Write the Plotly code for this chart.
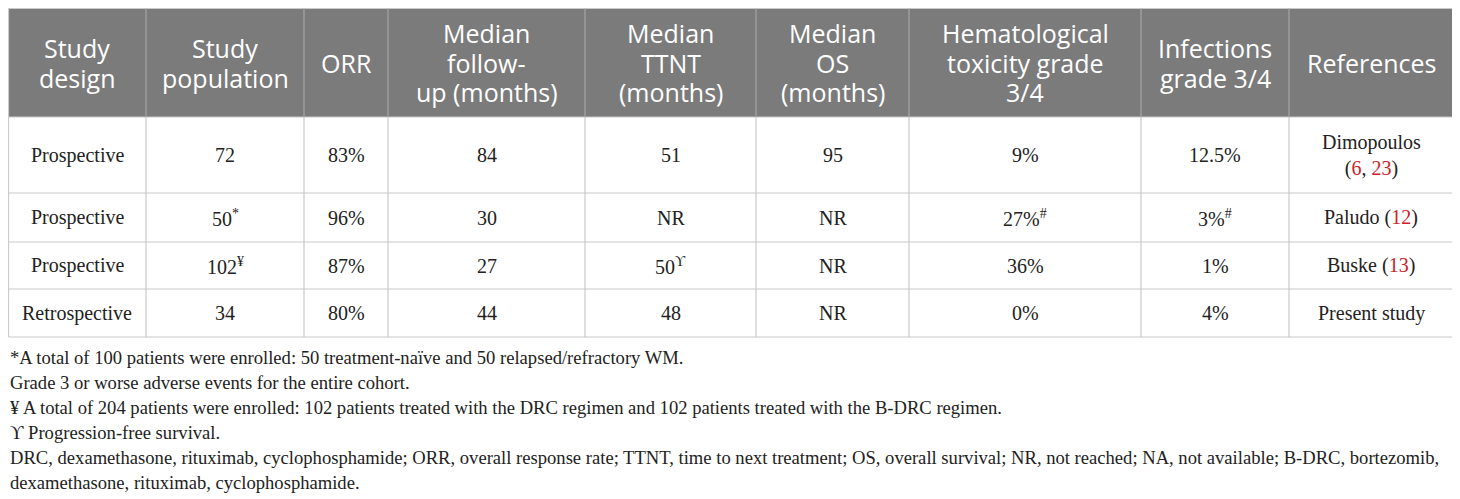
import plotly.graph_objects as go

### 표 데이터
headers = ['Study<br>design', 'Study<br>population', 'ORR', 'Median<br>follow-<br>up (months)',
           'Median<br>TTNT<br>(months)', 'Median<br>OS<br>(months)',
           'Hematological<br>toxicity grade<br>3/4', 'Infections<br>grade 3/4', 'References']

study_design = ['Prospective', 'Prospective', 'Prospective', 'Retrospective']
study_population = ['72', '50<sup>*</sup>', '102<sup>¥</sup>', '34']
orr = ['83%', '96%', '87%', '80%']
follow_up = ['84', '30', '27', '44']
ttnt = ['51', 'NR', '50<sup>ϒ</sup>', '48']
median_os = ['95', 'NR', 'NR', 'NR']
hem_tox = ['9%', '27%<sup>#</sup>', '36%', '0%']
infections = ['12.5%', '3%<sup>#</sup>', '1%', '4%']
ref_names = ['Dimopoulos<br>', 'Paludo ', 'Buske ', 'Present study']
ref_nums = [['6', '23'], ['12'], ['13'], []]

footnotes = [
    '*A total of 100 patients were enrolled: 50 treatment-naïve and 50 relapsed/refractory WM.',
    'Grade 3 or worse adverse events for the entire cohort.',
    '¥ A total of 204 patients were enrolled: 102 patients treated with the DRC regimen and 102 patients treated with the B-DRC regimen.',
    'ϒ Progression-free survival.',
    'DRC, dexamethasone, rituximab, cyclophosphamide; ORR, overall response rate; TTNT, time to next treatment; OS, overall survival; NR, not reached; NA, not available; B-DRC, bortezomib,',
    'dexamethasone, rituximab, cyclophosphamide.',
]

### 레이아웃 설정 (픽셀 단위, body 여백 8px 보정)
W, H = 1460, 499
PAD = 8
x0, y0 = 8.5, 8.5
col_w = [137.5, 158, 84, 197, 171, 153, 232, 148, 164]
row_h = [108.5, 76, 49, 47, 48]
header_bg = '#7b7b7b'
line_col = '#cacaca'
red = '#cc2229'
head_gap = 29.5   # 헤더 줄 간격
note_gap = 25     # 각주 줄 간격

# 참조 번호 빨간색 처리
references = []
for name, nums in zip(ref_names, ref_nums):
    if nums:
        refs = ', '.join("<span style='color:%s'>%s</span>" % (red, n) for n in nums)
        references.append(name + '(' + refs + ')')
    else:
        references.append(name)

columns = [study_design, study_population, orr, follow_up, ttnt, median_os, hem_tox, infections, references]

xs = [x0]
for w in col_w:
    xs.append(xs[-1] + w)
ys = [y0]
for h in row_h:
    ys.append(ys[-1] + h)

fig = go.Figure()

# 헤더 배경
fig.add_shape(type='rect', x0=xs[0], x1=xs[-1], y0=ys[0], y1=ys[1],
              fillcolor=header_bg, line=dict(width=0), layer='below')

# 가로선
for y in ys:
    fig.add_shape(type='line', x0=xs[0], x1=xs[-1], y0=y, y1=y,
                  line=dict(color=line_col, width=1.2))
# 세로선 (헤더 구간은 조금 진하게)
for x in xs:
    fig.add_shape(type='line', x0=x, x1=x, y0=ys[0], y1=ys[1],
                  line=dict(color=line_col if x in (xs[0], xs[-1]) else '#a5a5a5', width=1.2))
    fig.add_shape(type='line', x0=x, x1=x, y0=ys[1], y1=ys[-1],
                  line=dict(color=line_col, width=1.2))

# 헤더 텍스트 (줄마다 따로 배치)
hy = (ys[0] + ys[1]) / 2
for j, htext in enumerate(headers):
    lines = htext.split('<br>')
    n = len(lines)
    for k, ln in enumerate(lines):
        fig.add_annotation(x=(xs[j] + xs[j + 1]) / 2, y=hy + (k - (n - 1) / 2) * head_gap, text=ln,
                           showarrow=False, xanchor='center', yanchor='middle',
                           font=dict(family='Open Sans', size=25, color='white'))

# 셀 텍스트
for j, col in enumerate(columns):
    for i, val in enumerate(col):
        fig.add_annotation(x=(xs[j] + xs[j + 1]) / 2, y=(ys[i + 1] + ys[i + 2]) / 2, text=val,
                           showarrow=False, xanchor='center', yanchor='middle',
                           font=dict(family='Liberation Serif', size=20, color='#222222'))

# 각주
for k, note in enumerate(footnotes):
    fig.add_annotation(x=PAD, y=357 + k * note_gap, text=note,
                       showarrow=False, xanchor='left', yanchor='middle',
                       font=dict(family='Liberation Serif', size=18.6, color='#222222'))

fig.update_layout(width=W - PAD, height=H - PAD, margin=dict(l=0, r=0, t=0, b=0),
                  paper_bgcolor='white', plot_bgcolor='white', showlegend=False,
                  xaxis=dict(range=[PAD, W], visible=False, fixedrange=True),
                  yaxis=dict(range=[H, PAD], visible=False, fixedrange=True))

fig.write_html("out.html")
